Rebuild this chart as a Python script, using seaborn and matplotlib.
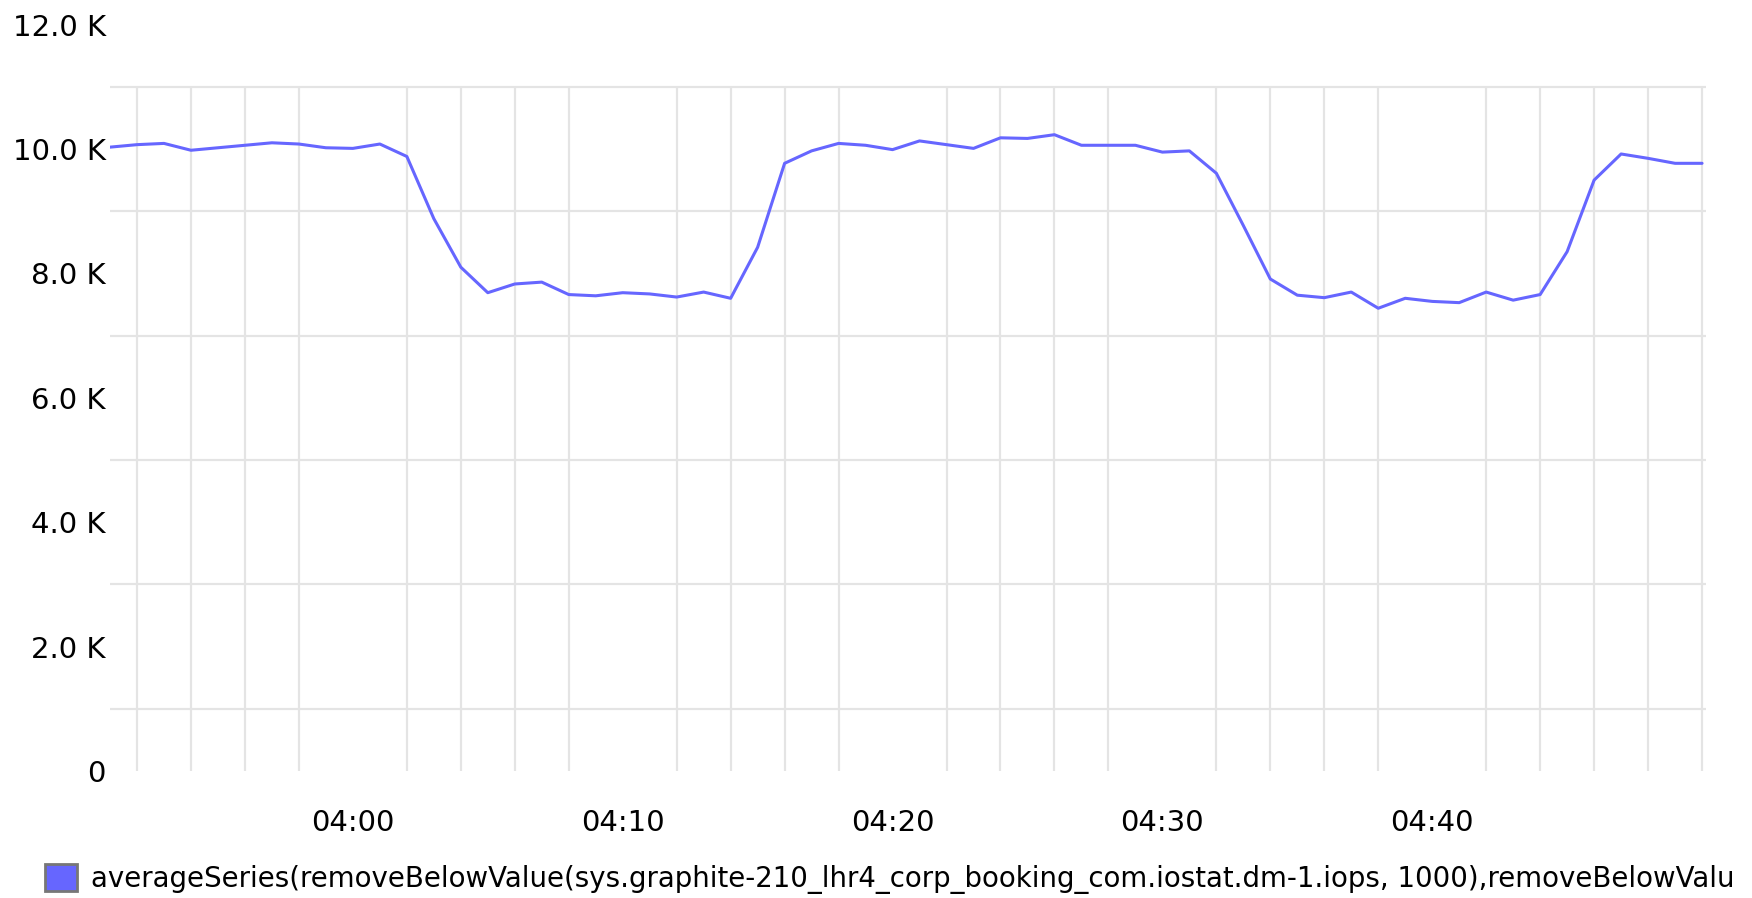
#!/usr/bin/env python3
"""
Graphite IOPS chart — averageSeries of dm-1 iops, one point per minute.
"""

import pandas as pd
import matplotlib
matplotlib.use("Agg")
import matplotlib.pyplot as plt
import matplotlib.dates as mdates
from matplotlib.patches import Patch
from matplotlib.ticker import MultipleLocator, FuncFormatter
import seaborn as sns

# Datos (una muestra por minuto, 03:51 -> 04:50)
START_TIME = "2015-01-01 03:51"
N_POINTS = 60
IOPS = [
    10030, 10070, 10090, 9980, 10020, 10060, 10100, 10080, 10020, 10010,
    10080, 9880, 8880, 8100, 7690, 7830, 7860, 7660, 7640, 7690,
    7670, 7620, 7700, 7600, 8420, 9770, 9970, 10090, 10060, 9990,
    10130, 10070, 10010, 10180, 10170, 10230, 10060, 10060, 10060, 9950,
    9970, 9610, 8770, 7910, 7650, 7610, 7700, 7440, 7600, 7550,
    7530, 7700, 7570, 7660, 8350, 9500, 9920, 9850, 9770, 9770,
]
Y_TICKS = [0, 2000, 4000, 6000, 8000, 10000, 12000]
LABEL_MINUTES = [0, 10, 20, 30, 40]
LEGEND_TEXT = ("averageSeries(removeBelowValue(sys.graphite-210_lhr4_corp_booking_com"
               ".iostat.dm-1.iops, 1000),removeBelowValu")

# Estilo
LINE_COLOR = "#6666ff"
GRID_COLOR = "#e4e4e4"
TICK_SIZE = 21
LEGEND_SIZE = 19.9

sns.set_style("white")
plt.rcParams["font.family"] = ["DejaVu Sans"]
plt.rcParams["text.color"] = "black"
plt.rcParams["xtick.color"] = "black"
plt.rcParams["ytick.color"] = "black"


def k_format(v, _pos):
    return "0" if v == 0 else f"{v / 1000:.1f} K"


def main():
    times = pd.date_range(START_TIME, periods=N_POINTS, freq="min")
    df = pd.DataFrame({"time": times, "iops": IOPS})

    fig = plt.figure(figsize=(17.52, 8.98), dpi=100)
    ax = fig.add_axes([0.0628, 0.1414, 0.911, 0.8312])

    sns.lineplot(data=df, x="time", y="iops", ax=ax, color=LINE_COLOR,
                 linewidth=2.2, zorder=3)

    ax.set_xlim(times[0], times[0] + pd.Timedelta(minutes=59.15))
    ax.set_ylim(0, 12000)

    # Eje X: etiquetas cada 10 min, rejilla cada 2 min
    ax.xaxis.set_major_locator(mdates.MinuteLocator(byminute=LABEL_MINUTES))
    ax.xaxis.set_major_formatter(mdates.DateFormatter("%H:%M"))
    ax.xaxis.set_minor_locator(mdates.MinuteLocator(byminute=range(0, 60, 2)))
    grid_x = ax.xaxis.get_minorticklocs()
    ax.vlines(grid_x, 0, 11000, color=GRID_COLOR, linewidth=1.6, zorder=1)

    # Eje Y: etiquetas en los pares, rejilla en los impares
    ax.set_yticks(Y_TICKS)
    ax.yaxis.set_major_formatter(FuncFormatter(k_format))
    ax.yaxis.set_minor_locator(MultipleLocator(2000, offset=1000))
    ax.grid(which="minor", axis="y", color=GRID_COLOR, linewidth=1.6, zorder=1)
    ax.grid(which="major", visible=False)

    ax.tick_params(axis="both", which="both", length=0, labelsize=TICK_SIZE)
    ax.tick_params(axis="x", pad=27)
    ax.tick_params(axis="y", pad=3)
    ax.set_xlabel("")
    ax.set_ylabel("")
    for spine in ax.spines.values():
        spine.set_visible(False)

    # Leyenda abajo, pegada al borde como en la original
    fig.legend(handles=[Patch(facecolor=LINE_COLOR, edgecolor="#777777", linewidth=2)],
               labels=[LEGEND_TEXT], loc="upper left",
               bbox_to_anchor=(45 / 1752, 1 - 864 / 898),
               frameon=False, handlelength=1.15, handleheight=1.15,
               handletextpad=0.5, borderpad=0, borderaxespad=0,
               fontsize=LEGEND_SIZE)

    fig.savefig("out.png", dpi=100)
    plt.close(fig)


if __name__ == "__main__":
    main()
